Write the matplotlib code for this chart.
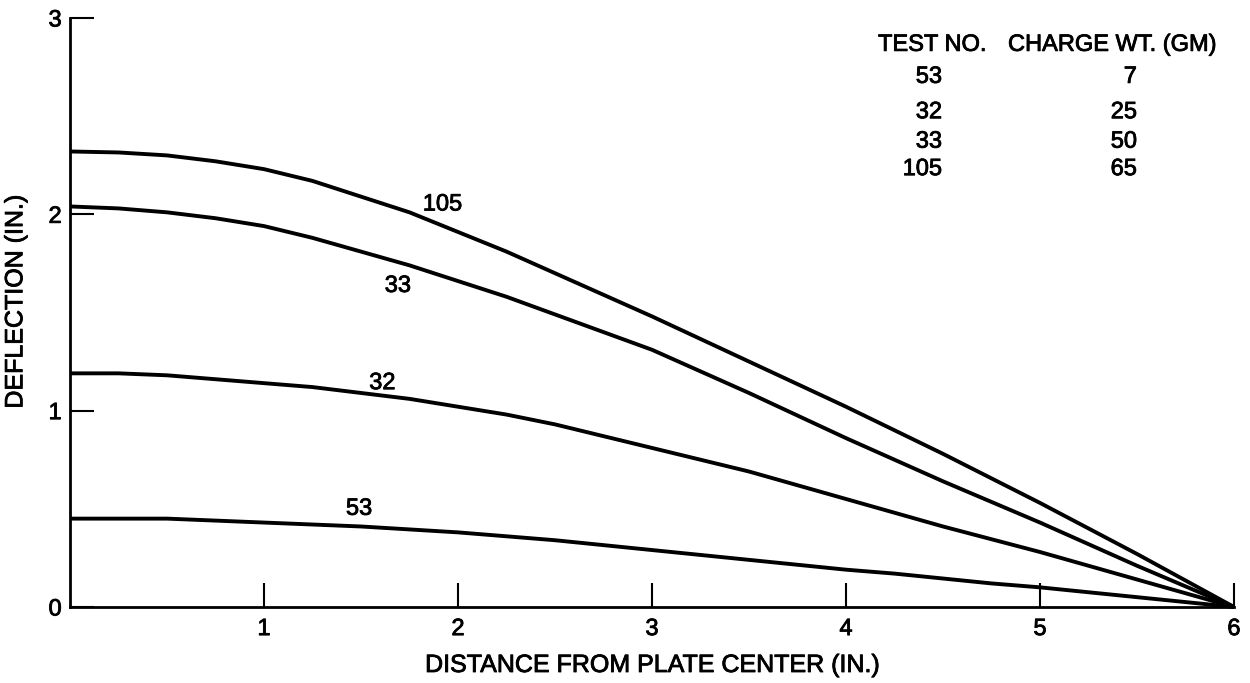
import matplotlib
matplotlib.use("Agg")
from matplotlib import pyplot as plt
from matplotlib import patheffects

plt.rcParams['font.family'] = ['Liberation Sans', 'DejaVu Sans']

# distance from plate center (in.)
distance = [0, 0.25, 0.5, 0.75, 1, 1.25, 1.5, 1.75, 2, 2.25, 2.5, 2.75, 3,
            3.25, 3.5, 3.75, 4, 4.25, 4.5, 4.75, 5, 5.25, 5.5, 5.75, 6]

# deflection (in.) per test
defl_105 = [2.32, 2.315, 2.30, 2.27, 2.23, 2.17, 2.09, 2.01, 1.91, 1.81, 1.70, 1.59, 1.48,
            1.365, 1.25, 1.135, 1.02, 0.90, 0.78, 0.655, 0.53, 0.40, 0.27, 0.135, 0.0]
defl_33 = [2.04, 2.03, 2.01, 1.98, 1.94, 1.88, 1.81, 1.74, 1.66, 1.58, 1.49, 1.40, 1.31,
           1.20, 1.09, 0.975, 0.86, 0.75, 0.64, 0.535, 0.43, 0.32, 0.21, 0.105, 0.0]
defl_32 = [1.19, 1.19, 1.18, 1.16, 1.14, 1.12, 1.09, 1.06, 1.02, 0.98, 0.93, 0.87, 0.81,
           0.75, 0.69, 0.62, 0.55, 0.48, 0.41, 0.345, 0.28, 0.21, 0.14, 0.07, 0.0]
defl_53 = [0.45, 0.45, 0.45, 0.44, 0.43, 0.42, 0.41, 0.395, 0.38, 0.36, 0.34, 0.315, 0.29,
           0.265, 0.24, 0.215, 0.19, 0.17, 0.145, 0.12, 0.10, 0.075, 0.05, 0.025, 0.0]

test_numbers = ["53", "32", "33", "105"]
charge_weights = ["7", "25", "50", "65"]

bold = [patheffects.withStroke(linewidth=0.6, foreground='black')]

fig = plt.figure(figsize=(12.5, 6.83), dpi=100)
ax = fig.add_axes([0.056, 0.1113, 0.9312, 0.8624])

for y in (defl_105, defl_33, defl_32, defl_53):
    ax.plot(distance, y, color='black', linewidth=2.8, clip_on=False,
            solid_capstyle='butt', solid_joinstyle='round')

# curve labels
ax.text(1.92, 2.05, "105", fontsize=17, ha='center', va='center', path_effects=bold)
ax.text(1.69, 1.635, "33", fontsize=17, ha='center', va='center', path_effects=bold)
ax.text(1.61, 1.14, "32", fontsize=17, ha='center', va='center', path_effects=bold)
ax.text(1.49, 0.50, "53", fontsize=17, ha='center', va='center', path_effects=bold)

# key table
ax.text(4.165, 2.863, "TEST NO.", fontsize=17, ha='left', va='center', path_effects=bold)
ax.text(4.835, 2.863, "CHARGE WT. (GM)", fontsize=17, ha='left', va='center', path_effects=bold)
row_y = [2.70, 2.52, 2.37, 2.23]
for t, c, yy in zip(test_numbers, charge_weights, row_y):
    ax.text(4.495, yy, t, fontsize=17, ha='right', va='center', path_effects=bold)
    ax.text(5.50, yy, c, fontsize=17, ha='right', va='center', path_effects=bold)

ax.set_xlim(0, 6)
ax.set_ylim(0, 3)
ax.set_xticks([1, 2, 3, 4, 5, 6])
ax.set_yticks([0, 1, 2, 3])
ax.tick_params(axis='both', direction='in', length=17, width=1.5, labelsize=17, color='black')
ax.tick_params(axis='x', pad=8)
ax.tick_params(axis='y', pad=6)
for lbl in ax.get_xticklabels() + ax.get_yticklabels():
    lbl.set_path_effects(bold)

for side in ('top', 'right'):
    ax.spines[side].set_visible(False)
for side in ('left', 'bottom'):
    ax.spines[side].set_linewidth(2)

ax.set_xlabel("DISTANCE FROM PLATE CENTER (IN.)", fontsize=18, va='center', path_effects=bold)
ax.xaxis.set_label_coords(0.5, -0.0985)
ax.set_ylabel("DEFLECTION (IN.)", fontsize=18, va='center', path_effects=bold)
ax.yaxis.set_label_coords(-0.047, 0.518)

fig.savefig("out.png", dpi=100)
